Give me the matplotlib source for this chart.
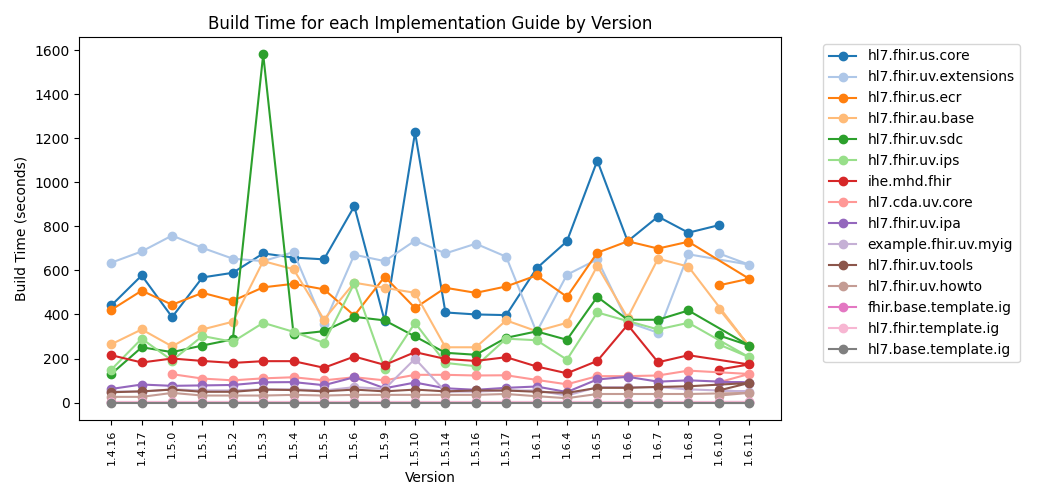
import matplotlib
matplotlib.use("Agg")
import matplotlib.pyplot as plt
import numpy as np

versions = ['1.4.16', '1.4.17', '1.5.0', '1.5.1', '1.5.2', '1.5.3', '1.5.4', '1.5.5',
            '1.5.6', '1.5.9', '1.5.10', '1.5.14', '1.5.16', '1.5.17', '1.6.1', '1.6.4',
            '1.6.5', '1.6.6', '1.6.7', '1.6.8', '1.6.10', '1.6.11']

# order in which each series' points were recorded (1.6.11 run logged before 1.6.10)
plot_order = ['1.4.16', '1.4.17', '1.5.0', '1.5.1', '1.5.2', '1.5.3', '1.5.4', '1.5.5',
              '1.5.6', '1.5.9', '1.5.10', '1.5.14', '1.5.16', '1.5.17', '1.6.1', '1.6.4',
              '1.6.5', '1.6.6', '1.6.7', '1.6.8', '1.6.11', '1.6.10']

us_core = [441, 577, 388, 568, 589, 677, 658, 650, 891, 370, 1226, 409, 400, 397, 609, 732,
           1098, 732, 844, 771, 805, None]
uv_extensions = [635, 686, 758, 702, 653, 642, 683, 355, 671, 642, 735, 677, 721, 662, 320, 580,
                 650, 365, 317, 673, 677, 626]
us_ecr = [421, 508, 444, 498, 462, 523, 539, 514, 395, 571, 429, 521, 498, 527, 577, 480,
          680, 732, 699, 730, 532, 562]
au_base = [265, 332, 255, 332, 367, 642, 605, 377, 544, 521, 498, 251, 251, 373, 324, 362,
           620, 385, 653, 617, 426, 256]
uv_sdc = [130, 251, 229, 259, 287, 1580, 309, 324, 389, 373, 300, 226, 217, 294, 323, 285,
          480, 376, 376, 418, 305, 259]
uv_ips = [150, 290, 191, 302, 276, 362, 321, 271, 541, 153, 362, 180, 165, 290, 283, 195,
          409, 370, 332, 362, 264, 206]
ihe_mhd = [215, 182, 200, 189, 180, 188, 188, 158, 209, 171, 229, 198, 189, 206, 164, 133,
           189, 353, 183, 215, 150, 173]
cda_uv_core = [None, None, 129, 109, 101, 110, 115, 101, 115, 101, 126, 126, 123, 124, 103, 83,
               120, 120, 123, 145, 92, 130]
uv_ipa = [62, 82, 76, 78, 80, 92, 93, 79, 115, 65, 91, 65, 58, 67, 73, 48,
          105, 117, 95, 101, 92, 90]
example_myig = [50, 50, 60, 55, 55, 60, 60, 55, 70, 62, 199, 50, 50, 55, 55, 32,
                70, 70, 70, 60, 55, 50]
uv_tools = [47, 51, 59, 49, 49, 59, 57, 51, 59, 51, 59, 51, 55, 55, 49, 44,
            67, 67, 71, 74, 55, 89]
uv_howto = [26, 26, 44, 32, 32, 32, 35, 32, 35, 35, 35, 35, 35, 39, 29, 20,
            39, 39, 39, 39, 32, 44]
fhir_base_template = [3, 3, 3, 3, 3, 3, 3, 3, 3, 3, 3, 3, 3, 3, 3, 3, 3, 3, 3, 3, 3, 3]
hl7_fhir_template = [2, 2, 2, 2, 2, 2, 2, 2, 2, 2, 2, 2, 2, 2, 2, 2, 2, 2, 2, 2, 2, 2]
hl7_base_template = [0, 0, 0, 0, 0, 0, 0, 0, 0, 0, 0, 0, 0, 0, 0, 0, 0, 0, 0, 0, 0, 0]

series_names = ['hl7.fhir.us.core', 'hl7.fhir.uv.extensions', 'hl7.fhir.us.ecr', 'hl7.fhir.au.base',
                'hl7.fhir.uv.sdc', 'hl7.fhir.uv.ips', 'ihe.mhd.fhir', 'hl7.cda.uv.core',
                'hl7.fhir.uv.ipa', 'example.fhir.uv.myig', 'hl7.fhir.uv.tools', 'hl7.fhir.uv.howto',
                'fhir.base.template.ig', 'hl7.fhir.template.ig', 'hl7.base.template.ig']
series_values = [us_core, uv_extensions, us_ecr, au_base, uv_sdc, uv_ips, ihe_mhd, cda_uv_core,
                 uv_ipa, example_myig, uv_tools, uv_howto, fhir_base_template, hl7_fhir_template,
                 hl7_base_template]

fig = plt.figure(figsize=(10.4, 5), dpi=100)
ax = fig.add_axes([0.0764, 0.16, 0.6746, 0.766])

cmap = plt.get_cmap('tab20')
pos = {v: i for i, v in enumerate(versions)}
for k, (name, vals) in enumerate(zip(series_names, series_values)):
    lookup = dict(zip(versions, vals))
    xs = [pos[v] for v in plot_order if lookup[v] is not None]
    ys = [lookup[v] for v in plot_order if lookup[v] is not None]
    ax.plot(xs, ys, marker='o', color=cmap(k % 20), label=name)

ax.set_xticks(range(len(versions)))
ax.set_xticklabels(versions, rotation=90, fontsize=8)
ax.set_title('Build Time for each Implementation Guide by Version')
ax.set_xlabel('Version')
ax.set_ylabel('Build Time (seconds)')
ax.legend(bbox_to_anchor=(1.05, 1), loc='upper left')

fig.savefig('out.png', dpi=100)
